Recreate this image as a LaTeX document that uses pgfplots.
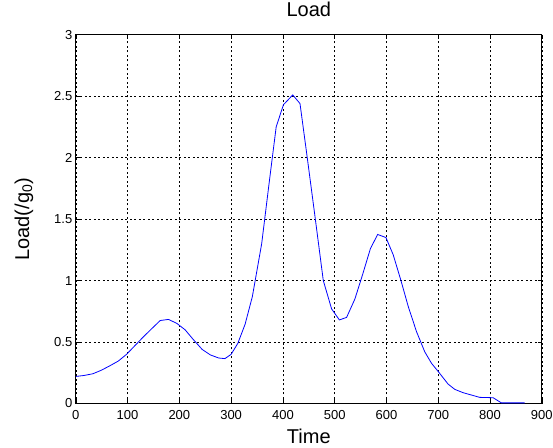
\documentclass[border=0pt]{standalone}
\usepackage{pgfplots}
\pgfplotsset{compat=1.18}
\usepackage{fontspec}
\setmainfont{Liberation Sans}
\begin{document}
\begin{tikzpicture}
\useasboundingbox (-75.8bp,-44.5bp) rectangle (477.2bp,403.5bp);
\begin{axis}[
  at={(0,0)}, anchor=south west,
  scale only axis,
  width=466bp, height=368.8bp,
  xmin=0, xmax=900, ymin=0, ymax=3,
  xtick={0,100,...,900},
  ytick={0,0.5,...,3},
  yticklabels={0,0.5,1,1.5,2,2.5,3},
  tick align=inside,
  xtick pos=both, ytick pos=both,
  xticklabel pos=left, yticklabel pos=left,
  major tick length=4bp,
  tick style={black, line width=0.5bp},
  axis line style={black, line width=0.8bp},
  grid=major,
  major grid style={black, line width=0.5bp, dash pattern=on 2bp off 2.5bp},
  /pgf/number format/assume math mode=true,
  ticklabel style={font=\fontsize{13bp}{15bp}\selectfont},
  xticklabel style={yshift=-3.5bp},
  title={Load},
  title style={font=\fontsize{20bp}{24bp}\selectfont, anchor=base, at={(axis description cs:0.5,1.0325)}},
  xlabel={Time},
  xlabel style={font=\fontsize{20bp}{24bp}\selectfont, anchor=base, at={(axis description cs:0.5,-0.1098)}},
  ylabel={Load(/g\textsubscript{0})},
  ylabel style={font=\fontsize{20bp}{24bp}\selectfont, anchor=base, rotate=0, at={(axis description cs:-0.1004,0.5)}},
]
\addplot[color={rgb,255:red,0;green,0;blue,255}, line width=0.8bp] coordinates {
(0,0.22) (16,0.228) (33,0.242) (49,0.27) (65,0.305) (82,0.345) (98,0.40)
(114,0.47) (130,0.54) (147,0.61) (163,0.675) (179,0.684) (195,0.652)
(211,0.60) (227,0.52) (244,0.44) (260,0.395) (276,0.37) (288,0.365)
(300,0.40) (313,0.49) (327,0.645) (341,0.87) (359,1.30) (373,1.78)
(387,2.25) (401,2.43) (419,2.51) (433,2.44) (447,2.0) (462,1.52)
(478,1.0) (494,0.77) (509,0.68) (523,0.70) (539,0.85) (554,1.05)
(569,1.26) (583,1.375) (599,1.35) (613,1.21) (628,1.00) (642,0.79)
(658,0.585) (674,0.42) (687,0.327) (700,0.26) (719,0.158) (732,0.115)
(748,0.088) (764,0.069) (780,0.05) (806,0.047) (822,0.005) (867,0.005)
};
\end{axis}
\end{tikzpicture}
\end{document}
